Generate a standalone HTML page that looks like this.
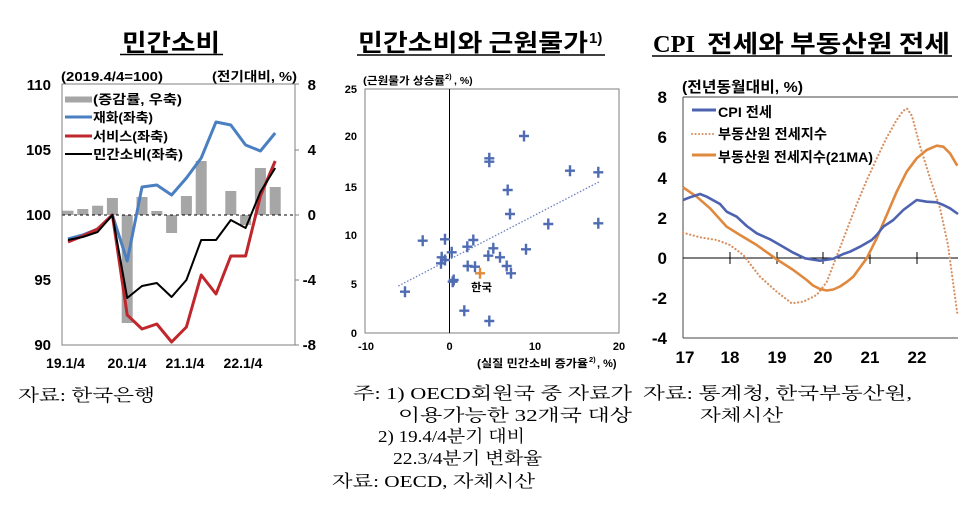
<!DOCTYPE html>
<html><head><meta charset="utf-8">
<style>
html,body{margin:0;padding:0;background:#fff;}
svg{display:block;}
.b{font-family:"Liberation Sans","Noto Sans CJK KR",sans-serif;font-weight:bold;fill:#000;}
.h{font-family:"Noto Sans CJK KR","Liberation Sans",sans-serif;font-weight:bold;fill:#000;}
.s{font-family:"Liberation Serif","Noto Serif CJK SC",serif;fill:#000;}
</style></head>
<body>
<svg width="974" height="511" viewBox="0 0 974 511" xmlns="http://www.w3.org/2000/svg">
<rect width="974" height="511" fill="#fff"/>

<!-- ===== Titles ===== -->
<text class="h" x="122" y="51" font-size="24" textLength="98" lengthAdjust="spacingAndGlyphs">민간소비</text>
<line x1="120" y1="54.5" x2="223" y2="54.5" stroke="#000" stroke-width="1.6"/>

<text class="h" x="358" y="51" font-size="24" textLength="230" lengthAdjust="spacingAndGlyphs">민간소비와 근원물가</text>
<text x="589" y="43" font-family="Liberation Sans,sans-serif" font-weight="bold" font-size="15">1)</text>
<line x1="357" y1="55" x2="605" y2="55" stroke="#000" stroke-width="1.6"/>

<text x="653" y="52" font-family="Liberation Serif,serif" font-weight="bold" font-size="24" textLength="42" lengthAdjust="spacingAndGlyphs">CPI</text>
<text class="h" x="707" y="52" font-size="24" textLength="243" lengthAdjust="spacingAndGlyphs">전세와 부동산원 전세</text>
<line x1="652" y1="56" x2="952" y2="56" stroke="#000" stroke-width="1.6"/>

<!-- ===== Left chart ===== -->
<text class="b" x="61" y="81" font-size="13" textLength="102" lengthAdjust="spacingAndGlyphs">(2019.4/4=100)</text>
<text class="b" x="212" y="81" font-size="13" textLength="85" lengthAdjust="spacingAndGlyphs">(전기대비, %)</text>

<g fill="#a6a6a6">
<rect x="62.5" y="210.7" width="11" height="4.3"/>
<rect x="77.3" y="209" width="11" height="6"/>
<rect x="92.1" y="205.7" width="11" height="9.3"/>
<rect x="106.9" y="198" width="11" height="17"/>
<rect x="121.7" y="215" width="11" height="108"/>
<rect x="136.5" y="197" width="11" height="18"/>
<rect x="151.3" y="211" width="11" height="4"/>
<rect x="166.1" y="215" width="11" height="18"/>
<rect x="180.9" y="196" width="11" height="19"/>
<rect x="195.7" y="161" width="11" height="54"/>
<rect x="225.3" y="191" width="11" height="24"/>
<rect x="240.1" y="215" width="11" height="10"/>
<rect x="254.9" y="168" width="11" height="47"/>
<rect x="269.7" y="187" width="11" height="28"/>
</g>
<line x1="62" y1="215" x2="295" y2="215" stroke="#000" stroke-width="1" stroke-dasharray="3 3"/>
<rect x="62" y="84" width="233" height="261" fill="none" stroke="#7f7f7f" stroke-width="1"/>
<g stroke="#7f7f7f" stroke-width="1">
<line x1="295" y1="84" x2="299" y2="84"/><line x1="295" y1="150" x2="299" y2="150"/>
<line x1="295" y1="215" x2="299" y2="215"/><line x1="295" y1="280" x2="299" y2="280"/>
<line x1="295" y1="345" x2="299" y2="345"/>
</g>

<polyline fill="none" stroke="#4a7fc1" stroke-width="3" stroke-linejoin="round" points="68,239 82.8,235 97.6,229 112.4,215 127.2,261 142,187 156.8,185 171.6,195 186.4,178 201.2,158 216,122 230.8,125 245.6,145 260.4,151 275.2,133"/>
<polyline fill="none" stroke="#c0272d" stroke-width="3" stroke-linejoin="round" points="68,242 82.8,236 97.6,229 112.4,215 127.2,315 142,329 156.8,324 171.6,342 186.4,327 201.2,275 216,294 230.8,256 245.6,256 260.4,196 275.2,161"/>
<polyline fill="none" stroke="#000" stroke-width="2" stroke-linejoin="round" points="68,240 82.8,237 97.6,232 112.4,215 127.2,298 142,286 156.8,283 171.6,297 186.4,280 201.2,240 216,240 230.8,220 245.6,228 260.4,192 275.2,168"/>

<!-- legend -->
<rect x="65" y="96.5" width="27" height="6" fill="#a6a6a6"/>
<line x1="65" y1="117" x2="92" y2="117" stroke="#4a7fc1" stroke-width="3"/>
<line x1="65" y1="136" x2="92" y2="136" stroke="#c0272d" stroke-width="3"/>
<line x1="65" y1="154" x2="92" y2="154" stroke="#000" stroke-width="2"/>
<text class="b" x="93" y="104" font-size="13" textLength="89" lengthAdjust="spacingAndGlyphs">(증감률, 우축)</text>
<text class="b" x="93" y="122" font-size="13" textLength="60" lengthAdjust="spacingAndGlyphs">재화(좌축)</text>
<text class="b" x="93" y="141" font-size="13" textLength="75" lengthAdjust="spacingAndGlyphs">서비스(좌축)</text>
<text class="b" x="93" y="159" font-size="13" textLength="90" lengthAdjust="spacingAndGlyphs">민간소비(좌축)</text>

<g class="b" font-size="15" text-anchor="end">
<text x="51" y="90">110</text><text x="51" y="155">105</text><text x="51" y="220">100</text>
<text x="51" y="285">95</text><text x="51" y="350">90</text>
<text x="316" y="90">8</text><text x="316" y="155">4</text><text x="316" y="220">0</text>
<text x="316" y="285">-4</text><text x="316" y="350">-8</text>
</g>
<g class="b" font-size="14" text-anchor="middle">
<text x="65.5" y="368">19.1/4</text><text x="127" y="368">20.1/4</text>
<text x="185" y="368">21.1/4</text><text x="243" y="368">22.1/4</text>
</g>

<!-- ===== Middle chart ===== -->
<text class="b" x="363" y="84" font-size="10.5" textLength="82" lengthAdjust="spacingAndGlyphs">(근원물가 상승률</text>
<text class="b" x="445" y="79" font-size="7.5">2)</text>
<text class="b" x="454" y="84" font-size="10.5">, %)</text>

<rect x="365" y="89" width="254" height="244" fill="none" stroke="#7f7f7f" stroke-width="1"/>
<line x1="449.5" y1="89" x2="449.5" y2="333" stroke="#000" stroke-width="1"/>
<g class="b" font-size="11" text-anchor="end">
<text x="357" y="93">25</text><text x="357" y="140">20</text><text x="357" y="191">15</text>
<text x="357" y="239">10</text><text x="357" y="288">5</text><text x="357" y="337">0</text>
</g>
<g class="b" font-size="11" text-anchor="middle">
<text x="366" y="350">-10</text><text x="449.5" y="350">0</text>
<text x="535" y="350">10</text><text x="619" y="350">20</text>
</g>
<text class="b" x="477" y="367" font-size="11" textLength="111" lengthAdjust="spacingAndGlyphs">(실질 민간소비 증가율</text>
<text class="b" x="589" y="362" font-size="7.5">2)</text>
<text class="b" x="597" y="367" font-size="11">, %)</text>

<line x1="398.3" y1="286" x2="599.3" y2="181.7" stroke="#6f7fc0" stroke-width="1.3" stroke-dasharray="1.5 1.8"/>

<g stroke="#4f6cb3" stroke-width="2.4" fill="none">
<path d="M519,136h10M524,130.5v11"/>
<path d="M484.3,158.3h10M489.3,152.8v11"/>
<path d="M484.3,161.7h10M489.3,156.2v11"/>
<path d="M565,170.7h10M570,165.2v11"/>
<path d="M593.3,172.3h10M598.3,166.8v11"/>
<path d="M502.7,190h10M507.7,184.5v11"/>
<path d="M505,214h10M510,208.5v11"/>
<path d="M543.3,224h10M548.3,218.5v11"/>
<path d="M593.3,223.3h10M598.3,217.8v11"/>
<path d="M417.7,240.7h10M422.7,235.2v11"/>
<path d="M440,239.3h10M445,233.8v11"/>
<path d="M468.3,240h10M473.3,234.5v11"/>
<path d="M462.3,246.7h10M467.3,241.2v11"/>
<path d="M446.7,252.3h10M451.7,246.8v11"/>
<path d="M488.3,248.3h10M493.3,242.8v11"/>
<path d="M521,249.3h10M526,243.8v11"/>
<path d="M483.3,255.7h10M488.3,250.2v11"/>
<path d="M495,257.3h10M500,251.8v11"/>
<path d="M436.7,257.3h10M441.7,251.8v11"/>
<path d="M440,260h10M445,254.5v11"/>
<path d="M436,263.3h10M441,257.8v11"/>
<path d="M462.7,266h10M467.7,260.5v11"/>
<path d="M470,266.7h10M475,261.2v11"/>
<path d="M501.7,266h10M506.7,260.5v11"/>
<path d="M506,273.3h10M511,267.8v11"/>
<path d="M447.7,281.7h10M452.7,276.2v11"/>
<path d="M448.7,280h10M453.7,274.5v11"/>
<path d="M400,291.7h10M405,286.2v11"/>
<path d="M459.3,310.7h10M464.3,305.2v11"/>
<path d="M484.3,321h10M489.3,315.5v11"/>
</g>
<path d="M475,273.3h10M480,267.8v11" stroke="#e08a3c" stroke-width="2.4" fill="none"/>
<text class="b" x="471" y="291" font-size="11" textLength="21" lengthAdjust="spacingAndGlyphs">한국</text>

<!-- ===== Right chart ===== -->
<text class="b" x="682" y="92" font-size="15" textLength="121" lengthAdjust="spacingAndGlyphs">(전년동월대비, %)</text>
<line x1="683" y1="97" x2="958" y2="97" stroke="#444" stroke-width="1"/>
<line x1="683" y1="97" x2="683" y2="338" stroke="#444" stroke-width="1"/>
<line x1="683" y1="338" x2="958" y2="338" stroke="#444" stroke-width="1"/>
<line x1="683" y1="258" x2="958" y2="258" stroke="#000" stroke-width="1"/>
<g stroke="#000" stroke-width="1">
<line x1="730" y1="252" x2="730" y2="264"/><line x1="777" y1="252" x2="777" y2="264"/>
<line x1="823" y1="252" x2="823" y2="264"/><line x1="870" y1="252" x2="870" y2="264"/>
<line x1="917" y1="252" x2="917" y2="264"/>
</g>
<g class="b" font-size="17" text-anchor="end">
<text x="667" y="103">8</text><text x="667" y="143">6</text><text x="667" y="184">4</text>
<text x="667" y="224">2</text><text x="667" y="264">0</text><text x="667" y="304">-2</text>
<text x="667" y="344">-4</text>
</g>
<g class="b" font-size="17" text-anchor="middle">
<text x="685" y="363">17</text><text x="730" y="363">18</text><text x="777" y="363">19</text>
<text x="823" y="363">20</text><text x="870" y="363">21</text><text x="917" y="363">22</text>
</g>

<polyline fill="none" stroke="#d99060" stroke-width="2.2" stroke-linecap="round" stroke-dasharray="0.1 3.6" points="683,232.7 700,237.3 716.7,240 730,245 743.3,255 760,276.7 776.7,291.7 791.7,303.3 803.3,301.7 816.7,295 826.7,282 836,258 846,232 856,206 866,182 876,160 886,139 896,121 903,111 907,108.5 912,116 920,146 930,178 940,208 948,245 953,282 957.5,315"/>
<polyline fill="none" stroke="#e0893e" stroke-width="2.6" stroke-linejoin="round" points="683,187.3 696.7,196.7 710,208.3 726.7,226.7 740,235 756.7,245 776.7,259.3 793.3,270 806.7,280 813,285.5 820,289 826.7,290.5 833.3,289.5 840,286.5 846.7,282 853.3,276.7 860,267.5 866.7,258.3 876.7,238.3 886.7,215 896.7,191.7 906.7,171.7 916.7,158.3 926.7,150 936.7,145.7 943.3,146.7 950,153.3 957.3,165.7"/>
<polyline fill="none" stroke="#4d63b0" stroke-width="2.6" stroke-linejoin="round" points="683,200 690,197.3 700,194 706.7,196.7 720,204 726.7,211.7 736.7,216.7 746.7,226 756.7,233.3 770,239.3 780,245 793.3,252.7 805,258.3 820,260.7 833.3,258.7 843.3,254 850,251.7 860,246.7 871.7,240 876.7,235 883.3,226.7 893.3,220 903.3,210 910,205 916.7,200 926.7,201.7 936.7,202.3 943.3,205 950,208.3 958,214"/>

<line x1="692" y1="110" x2="716" y2="110" stroke="#4d63b0" stroke-width="3"/>
<line x1="692" y1="134" x2="716" y2="134" stroke="#d99060" stroke-width="2" stroke-linecap="round" stroke-dasharray="0.1 3.4"/>
<line x1="692" y1="155" x2="716" y2="155" stroke="#e0893e" stroke-width="3"/>
<text class="b" x="718" y="117" font-size="14" textLength="54" lengthAdjust="spacingAndGlyphs">CPI 전세</text>
<text class="b" x="718" y="139" font-size="14" textLength="109" lengthAdjust="spacingAndGlyphs">부동산원 전세지수</text>
<text class="b" x="718" y="162" font-size="14" textLength="155" lengthAdjust="spacingAndGlyphs">부동산원 전세지수(21MA)</text>

<!-- ===== Footnotes ===== -->
<g class="s" font-size="17">
<text x="18" y="401" textLength="137" lengthAdjust="spacingAndGlyphs">자료: 한국은행</text>
<text x="353" y="399" textLength="279" lengthAdjust="spacingAndGlyphs">주: 1) OECD회원국 중 자료가</text>
<text x="398" y="421" textLength="234" lengthAdjust="spacingAndGlyphs">이용가능한 32개국 대상</text>
<text x="378" y="442" textLength="147" lengthAdjust="spacingAndGlyphs">2) 19.4/4분기 대비</text>
<text x="393" y="464" textLength="149" lengthAdjust="spacingAndGlyphs">22.3/4분기 변화율</text>
<text x="332" y="487" textLength="203" lengthAdjust="spacingAndGlyphs">자료: OECD, 자체시산</text>
<text x="643" y="399" textLength="269" lengthAdjust="spacingAndGlyphs">자료: 통계청, 한국부동산원,</text>
<text x="700" y="421" textLength="83" lengthAdjust="spacingAndGlyphs">자체시산</text>
</g>
</svg>
</body></html>
